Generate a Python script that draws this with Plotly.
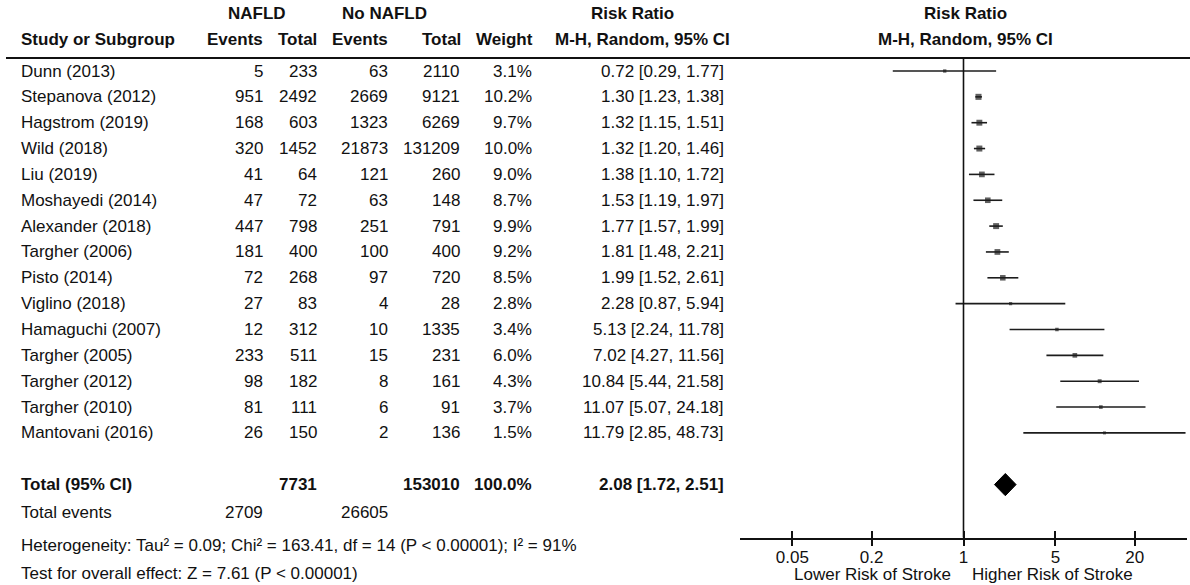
import math
import plotly.graph_objects as go

# ---- data -------------------------------------------------------------
studies = ["Dunn (2013)", "Stepanova (2012)", "Hagstrom (2019)", "Wild (2018)",
           "Liu (2019)", "Moshayedi (2014)", "Alexander (2018)", "Targher (2006)",
           "Pisto (2014)", "Viglino (2018)", "Hamaguchi (2007)", "Targher (2005)",
           "Targher (2012)", "Targher (2010)", "Mantovani (2016)"]
nafld_events = [5, 951, 168, 320, 41, 47, 447, 181, 72, 27, 12, 233, 98, 81, 26]
nafld_total = [233, 2492, 603, 1452, 64, 72, 798, 400, 268, 83, 312, 511, 182, 111, 150]
ctrl_events = [63, 2669, 1323, 21873, 121, 63, 251, 100, 97, 4, 10, 15, 8, 6, 2]
ctrl_total = [2110, 9121, 6269, 131209, 260, 148, 791, 400, 720, 28, 1335, 231, 161, 91, 136]
weights = [3.1, 10.2, 9.7, 10.0, 9.0, 8.7, 9.9, 9.2, 8.5, 2.8, 3.4, 6.0, 4.3, 3.7, 1.5]
rr = [0.72, 1.30, 1.32, 1.32, 1.38, 1.53, 1.77, 1.81, 1.99, 2.28, 5.13, 7.02, 10.84, 11.07, 11.79]
ci_low = [0.29, 1.23, 1.15, 1.20, 1.10, 1.19, 1.57, 1.48, 1.52, 0.87, 2.24, 4.27, 5.44, 5.07, 2.85]
ci_high = [1.77, 1.38, 1.51, 1.46, 1.72, 1.97, 1.99, 2.21, 2.61, 5.94, 11.78, 11.56, 21.58, 24.18, 48.73]

total_nafld = 7731
total_ctrl = 153010
total_weight = "100.0%"
pooled_rr, pooled_low, pooled_high = 2.08, 1.72, 2.51
events_nafld = 2709
events_ctrl = 26605
heterogeneity = "Heterogeneity: Tau² = 0.09; Chi² = 163.41, df = 14 (P < 0.00001); I² = 91%"
overall_test = "Test for overall effect: Z = 7.61 (P < 0.00001)"

tick_vals = [0.05, 0.2, 1, 5, 20]
tick_text = ["0.05", "0.2", "1", "5", "20"]
x_limits = [0.02, 50]

# ---- layout geometry ---------------------------------------------------
W, H = 1190, 585
FONT = "Arial, Liberation Sans, sans-serif"
FS = 17
INK = "#111111"
ROW0_PX, ROW_STEP = 71, 25.85
AXIS_PX = 537.5
HEAD_LINE_PX = 58
TOTAL_ROW = len(studies) + 1


def py(px):
    return 1 - px / H


def px_x(px):
    return px / W


y_top = (0 - ROW0_PX) / ROW_STEP
y_bot = (AXIS_PX - ROW0_PX) / ROW_STEP

fig = go.Figure()

# confidence interval whiskers
xs, ys = [], []
for i, (a, b) in enumerate(zip(ci_low, ci_high)):
    xs += [a, b, None]
    ys += [i, i, None]
fig.add_trace(go.Scatter(x=xs, y=ys, mode="lines",
                         line=dict(color="#1c1c1c", width=1.6),
                         hoverinfo="skip", showlegend=False))

# weighted point estimates
fig.add_trace(go.Scatter(x=rr, y=list(range(len(rr))), mode="markers",
                         marker=dict(symbol="square", color="#1c1c1c",
                                     size=[max(3, 1.9 * math.sqrt(w)) for w in weights],
                                     line=dict(width=0)),
                         hoverinfo="skip", showlegend=False))

# pooled diamond
half_h = 0.43
fig.add_trace(go.Scatter(x=[pooled_low, pooled_rr, pooled_high, pooled_rr, pooled_low],
                         y=[TOTAL_ROW, TOTAL_ROW - half_h, TOTAL_ROW, TOTAL_ROW + half_h, TOTAL_ROW],
                         mode="lines", fill="toself", fillcolor="black",
                         line=dict(color="black", width=1),
                         hoverinfo="skip", showlegend=False))

# single-point line keeps the overlay axis (inner tick halves) active without drawing anything
fig.add_trace(go.Scatter(x=[1], y=[TOTAL_ROW], xaxis="x2", mode="lines",
                         line=dict(width=0), hoverinfo="skip", showlegend=False))

domain_x = [px_x(740), px_x(1187)]
axis_common = dict(type="log", range=[math.log10(x_limits[0]), math.log10(x_limits[1])],
                   domain=domain_x, showgrid=False, zeroline=False,
                   tickvals=tick_vals, ticktext=tick_text, ticklen=7, tickwidth=1.5,
                   tickcolor=INK)

fig.update_layout(
    width=W, height=H,
    margin=dict(l=0, r=0, t=0, b=0),
    paper_bgcolor="white", plot_bgcolor="rgba(0,0,0,0)",
    font=dict(family=FONT, size=FS, color=INK),
    xaxis=dict(**axis_common, ticks="outside", showline=True, linecolor=INK,
               linewidth=1.5, anchor="y", ticklabelstandoff=-4,
               tickfont=dict(family=FONT, size=FS, color=INK)),
    xaxis2=dict(**axis_common, ticks="inside", showline=False, overlaying="x",
                anchor="y", side="bottom", showticklabels=False),
    yaxis=dict(domain=[py(AXIS_PX), 1], range=[y_bot, y_top], visible=False,
               showgrid=False, zeroline=False),
)

# no-effect line and header rule
fig.add_shape(type="line", xref="x", yref="paper", x0=1, x1=1,
              y0=py(AXIS_PX), y1=py(HEAD_LINE_PX), line=dict(color=INK, width=1.6))
fig.add_shape(type="line", xref="paper", yref="paper", x0=px_x(6), x1=1,
              y0=py(HEAD_LINE_PX), y1=py(HEAD_LINE_PX), line=dict(color=INK, width=2))


def label(text, xpx, y, anchor="left", bold=False, yref="paper", yanchor="middle"):
    fig.add_annotation(text=f"<b>{text}</b>" if bold else text,
                       x=px_x(xpx), xref="paper", y=y, yref=yref,
                       xanchor=anchor, yanchor=yanchor, showarrow=False,
                       borderpad=0,
                       font=dict(family=FONT, size=FS, color=INK))


# column headers
label("NAFLD", 257, py(13), "center", True)
label("No NAFLD", 384, py(13), "center", True)
label("Risk Ratio", 632, py(13), "center", True)
label("Risk Ratio", 965, py(13), "center", True)
label("Study or Subgroup", 20, py(40), "left", True)
label("Events", 264, py(40), "right", True)
label("Total", 318, py(40), "right", True)
label("Events", 389, py(40), "right", True)
label("Total", 462, py(40), "right", True)
label("Weight", 534, py(40), "right", True)
label("M-H, Random, 95% CI", 642, py(40), "center", True)
label("M-H, Random, 95% CI", 965, py(40), "center", True)

# study rows
for i, name in enumerate(studies):
    label(name, 20, i, "left", yref="y")
    label(str(nafld_events[i]), 264, i, "right", yref="y")
    label(str(nafld_total[i]), 318, i, "right", yref="y")
    label(str(ctrl_events[i]), 389, i, "right", yref="y")
    label(str(ctrl_total[i]), 461, i, "right", yref="y")
    label(f"{weights[i]:.1f}%", 533, i, "right", yref="y")
    label(f"{rr[i]:.2f} [{ci_low[i]:.2f}, {ci_high[i]:.2f}]", 725, i, "right", yref="y")

# pooled row
label("Total (95% CI)", 20, TOTAL_ROW, "left", True, yref="y")
label(str(total_nafld), 318, TOTAL_ROW, "right", True, yref="y")
label(str(total_ctrl), 461, TOTAL_ROW, "right", True, yref="y")
label(total_weight, 533, TOTAL_ROW, "right", True, yref="y")
label(f"{pooled_rr:.2f} [{pooled_low:.2f}, {pooled_high:.2f}]", 725, TOTAL_ROW, "right", True, yref="y")

# footer statistics
label("Total events", 20, py(512))
label(str(events_nafld), 264, py(512), "right")
label(str(events_ctrl), 389, py(512), "right")
label(heterogeneity, 20, py(545))
label(overall_test, 20, py(573))

# direction captions under the axis
label("Lower Risk of Stroke", 952, 0, "right", yanchor="bottom")
label("Higher Risk of Stroke", 971, 0, "left", yanchor="bottom")

fig.write_html("out.html")
